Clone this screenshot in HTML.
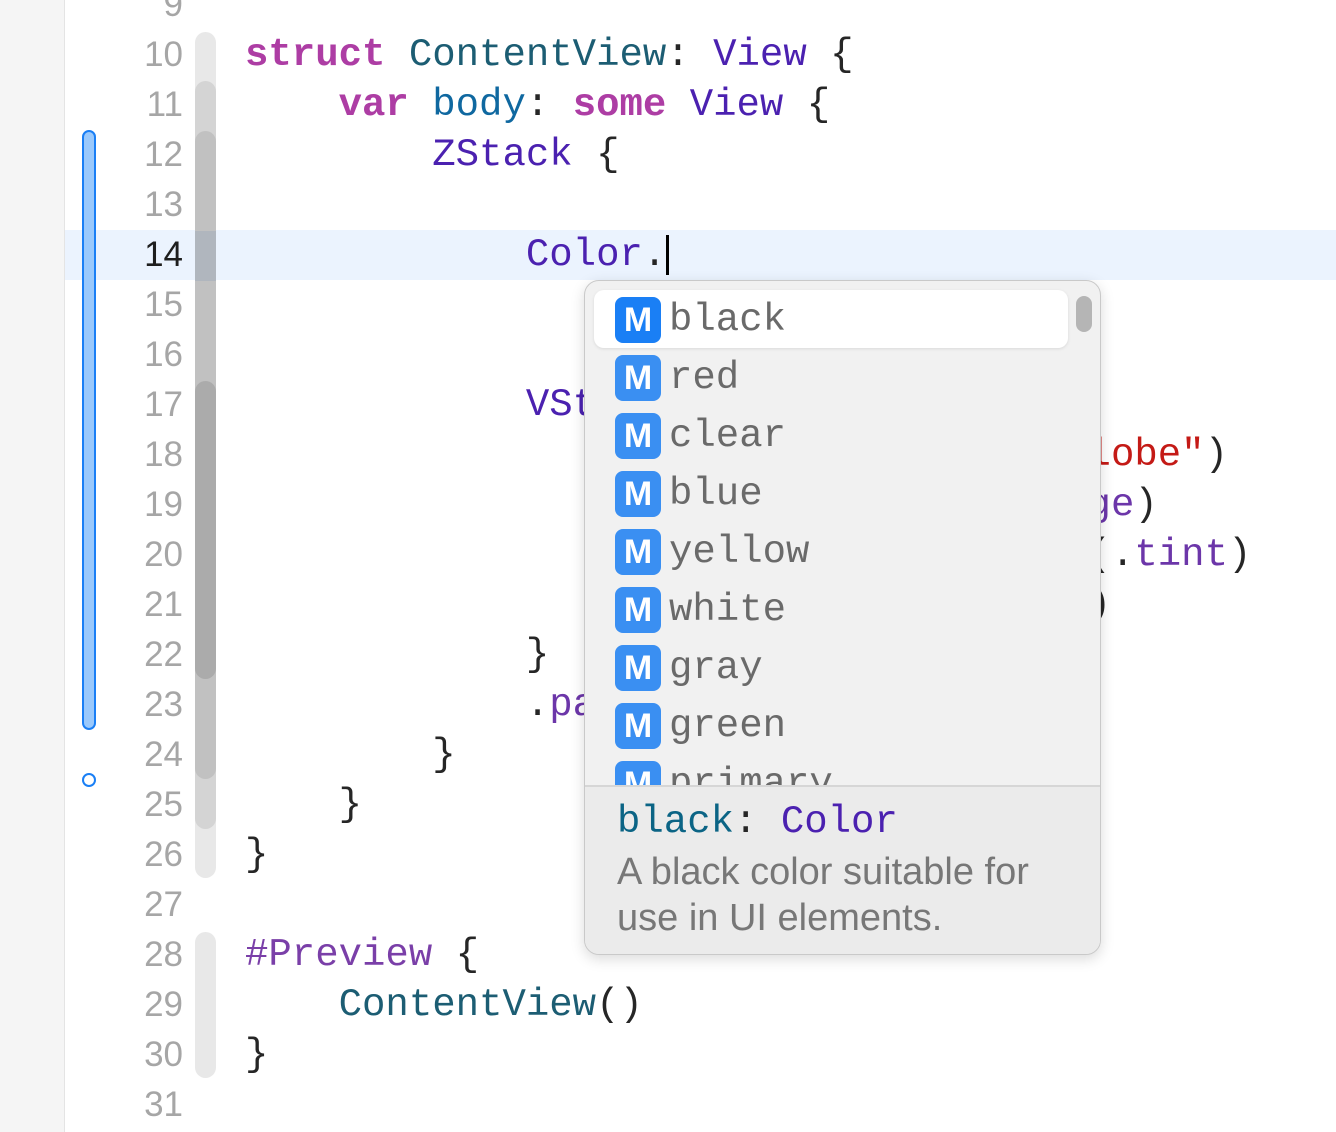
<!DOCTYPE html>
<html><head><meta charset="utf-8"><style>
*{margin:0;padding:0;box-sizing:border-box}
body{width:1336px;height:1132px;background:#fff;position:relative;overflow:hidden;font-family:"Liberation Mono",monospace}
.side{position:absolute;left:0;top:0;width:65px;height:1132px;background:#f5f5f5;border-right:1px solid #e4e4e4}
.hl{position:absolute;left:65px;top:230px;width:1271px;height:50px;background:#ebf3fe}
.ln{position:absolute;left:100px;width:83px;text-align:right;font-family:"Liberation Sans",sans-serif;font-size:35px;color:#a6a6a6;height:50px;line-height:50px}
.code{position:absolute;left:245px;font-size:39px;line-height:50px;height:50px;white-space:pre;color:#262626}
.k{color:#ad3da4;font-weight:bold}.t{color:#1c5d73}.ty{color:#4b21b0}.p{color:#0f68a0}.s{color:#c41a16}.m{color:#6c36a9}
.band{position:absolute;left:195px;width:21px;border-radius:11px}
.pop{position:absolute;left:584px;top:280px;width:517px;height:675px;background:#f1f1f1;border:1px solid #c9c9c9;border-radius:15px;box-shadow:0 4px 14px rgba(0,0,0,.15);overflow:hidden}
.row{position:absolute;left:30px;height:46px;font-size:39px;line-height:46px;color:#6a6a6a;white-space:pre}
.ic{display:inline-block;width:46px;height:46px;border-radius:8px;background:#3a8ff2;color:#fff;font-family:"Liberation Sans",sans-serif;font-size:34px;font-weight:bold;text-align:center;line-height:46px;vertical-align:top;margin-right:8px}
</style></head><body>
<div class="side"></div>
<div class="hl"></div>
<div style="position:absolute;left:82px;top:130px;width:14px;height:600px;background:#9ac9fc;border:2px solid #1a7ff5;border-radius:7px"></div>
<div style="position:absolute;left:82px;top:773px;width:14px;height:14px;border:2px solid #1a7ff5;border-radius:50%"></div>
<div class="band" style="top:32px;height:846px;background:#e8e8e8"></div>
<div class="band" style="top:81px;height:748px;background:#d4d4d4"></div>
<div class="band" style="top:131px;height:648px;background:#c1c1c1"></div>
<div class="band" style="top:381px;height:298px;background:#ababab"></div>
<div class="band" style="top:231px;height:50px;background:#b0b6be;border-radius:0"></div>
<div class="band" style="top:932px;height:146px;background:#e8e8e8"></div>
<div class="ln" style="top:-20px">9</div>
<div class="ln" style="top:30px">10</div><div class="ln" style="top:80px">11</div><div class="ln" style="top:130px">12</div><div class="ln" style="top:180px">13</div>
<div class="ln" style="top:230px;color:#1e1e1e">14</div><div class="ln" style="top:280px">15</div><div class="ln" style="top:330px">16</div><div class="ln" style="top:380px">17</div>
<div class="ln" style="top:430px">18</div><div class="ln" style="top:480px">19</div><div class="ln" style="top:530px">20</div><div class="ln" style="top:580px">21</div>
<div class="ln" style="top:630px">22</div><div class="ln" style="top:680px">23</div><div class="ln" style="top:730px">24</div><div class="ln" style="top:780px">25</div>
<div class="ln" style="top:830px">26</div><div class="ln" style="top:880px">27</div><div class="ln" style="top:930px">28</div><div class="ln" style="top:980px">29</div>
<div class="ln" style="top:1030px">30</div><div class="ln" style="top:1080px">31</div>
<div class="code" style="top:30px"><span class="k">struct</span> <span class="t">ContentView</span>: <span class="ty">View</span> {</div>
<div class="code" style="top:80px">    <span class="k">var</span> <span class="p">body</span>: <span class="k">some</span> <span class="ty">View</span> {</div>
<div class="code" style="top:130px">        <span class="ty">ZStack</span> {</div>
<div class="code" style="top:230px">            <span class="ty">Color</span>.<span style="display:inline-block;width:3px;height:40px;background:#000;vertical-align:middle"></span></div>
<div class="code" style="top:380px">            <span class="ty">VStack</span> {</div>
<div class="code" style="top:430px">                <span class="ty">Image</span>(systemName: <span class="s">"globe"</span>)</div>
<div class="code" style="top:480px">                    .<span class="m">imageScale</span>(.<span class="m">large</span>)</div>
<div class="code" style="top:530px">                    .<span class="m">foregroundStyle</span>(.<span class="m">tint</span>)</div>
<div class="code" style="top:580px">                <span class="ty">Text</span>(<span class="s">"Hello, world!"</span>)</div>
<div class="code" style="top:630px">            }</div>
<div class="code" style="top:680px">            .<span class="m">padding</span>()</div>
<div class="code" style="top:730px">        }</div>
<div class="code" style="top:780px">    }</div>
<div class="code" style="top:830px">}</div>
<div class="code" style="top:930px"><span style="color:#7a3fa8">#Preview</span> {</div>
<div class="code" style="top:980px">    <span class="t">ContentView</span>()</div>
<div class="code" style="top:1030px">}</div>
<div class="pop">
<div style="position:absolute;left:9px;top:9px;width:474px;height:58px;background:#fff;border-radius:10px;box-shadow:0 1px 3px rgba(0,0,0,.1)"></div>
<div style="position:absolute;left:491px;top:15px;width:16px;height:36px;background:#b5b5b5;border-radius:8px"></div>
<div style="position:absolute;left:0;top:0;width:517px;height:504px;overflow:hidden">
<div class="row" style="top:16px"><span class="ic" style="background:#1a7ff5">M</span>black</div>
<div class="row" style="top:74px"><span class="ic">M</span>red</div>
<div class="row" style="top:132px"><span class="ic">M</span>clear</div>
<div class="row" style="top:190px"><span class="ic">M</span>blue</div>
<div class="row" style="top:248px"><span class="ic">M</span>yellow</div>
<div class="row" style="top:306px"><span class="ic">M</span>white</div>
<div class="row" style="top:364px"><span class="ic">M</span>gray</div>
<div class="row" style="top:422px"><span class="ic">M</span>green</div>
<div class="row" style="top:480px"><span class="ic">M</span>primary</div>
</div>
<div style="position:absolute;left:0;top:504px;width:517px;height:171px;background:#ebebeb;border-top:2px solid #d6d6d6"></div>
<div style="position:absolute;left:32px;top:516px;font-size:39px;line-height:50px;white-space:pre;color:#0b6485">black<span style="color:#262626">:</span> <span class="ty">Color</span></div>
<div style="position:absolute;left:32px;top:568px;font-family:'Liberation Sans',sans-serif;font-size:38px;line-height:46px;color:#777">A black color suitable for<br>use in UI elements.</div>
</div>
</body></html>
